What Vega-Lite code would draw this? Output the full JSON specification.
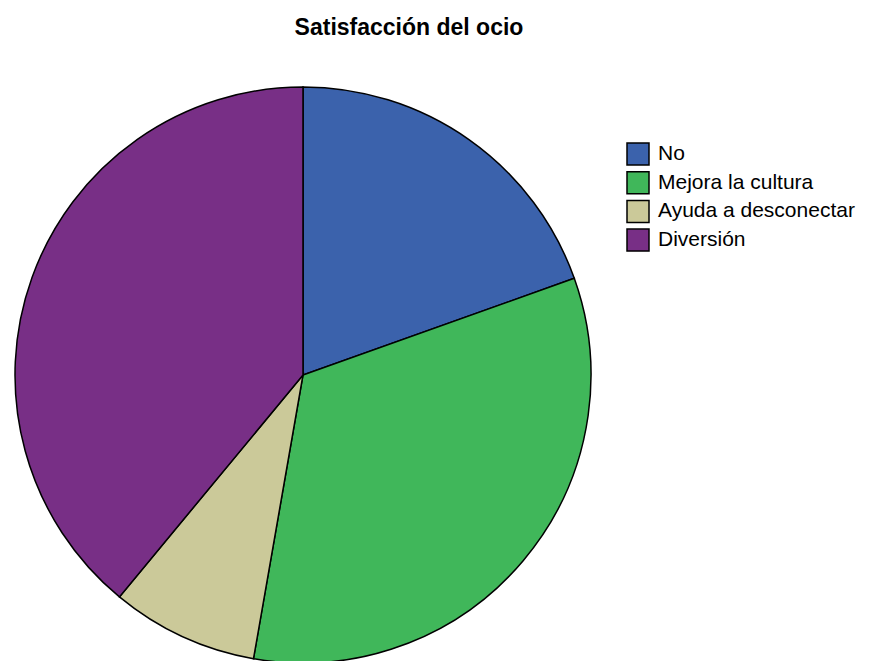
{
  "$schema": "https://vega.github.io/schema/vega-lite/v6.json",
  "width": 606,
  "height": 572,
  "autosize": "none",
  "padding": {"left": 0, "top": 89, "right": 263, "bottom": 0},
  "background": "white",
  "title": {
    "text": "Satisfacción del ocio",
    "font": "Liberation Sans",
    "fontSize": 23,
    "fontWeight": "bold",
    "color": "#000000",
    "anchor": "middle",
    "dx": 106,
    "offset": 44
  },
  "data": {
    "values": [
      {"categoria": "No", "porcentaje": 19.55, "orden": 1},
      {"categoria": "Mejora la cultura", "porcentaje": 33.2, "orden": 2},
      {"categoria": "Ayuda a desconectar", "porcentaje": 8.25, "orden": 3},
      {"categoria": "Diversión", "porcentaje": 39.0, "orden": 4}
    ]
  },
  "mark": {"type": "arc", "radius": 288, "stroke": "#000000", "strokeWidth": 1.5},
  "encoding": {
    "theta": {"field": "porcentaje", "type": "quantitative", "stack": true},
    "order": {"field": "orden", "type": "quantitative"},
    "color": {
      "field": "categoria",
      "type": "nominal",
      "sort": ["No", "Mejora la cultura", "Ayuda a desconectar", "Diversión"],
      "scale": {
        "domain": ["No", "Mejora la cultura", "Ayuda a desconectar", "Diversión"],
        "range": ["#3B62AC", "#40B75A", "#CBC999", "#782F86"]
      },
      "legend": {
        "title": null,
        "orient": "none",
        "legendX": 626,
        "legendY": 53,
        "symbolType": "square",
        "symbolSize": 484,
        "symbolStrokeColor": "#000000",
        "symbolStrokeWidth": 1.5,
        "symbolOpacity": 1,
        "labelFont": "Liberation Sans",
        "labelFontSize": 21,
        "labelColor": "#000000",
        "labelOffset": 8,
        "labelLimit": 400,
        "rowPadding": 0.7
      }
    }
  },
  "config": {"view": {"stroke": null}}
}
